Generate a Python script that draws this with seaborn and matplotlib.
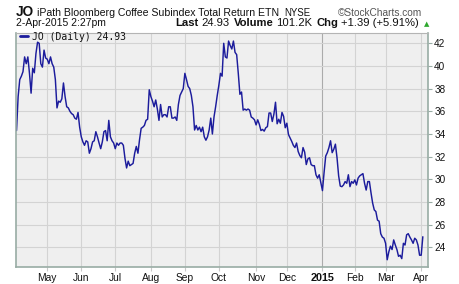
import matplotlib
matplotlib.use("Agg")
import matplotlib.pyplot as plt
import seaborn as sns
import numpy as np
import pandas as pd

# ---- data: daily closes (one value per trading day) ----
apr_2014 = [34.3, 37.3, 38.8, 39.1, 39.5, 40.8, 40.2, 40.8, 39.35, 37.6, 39.8, 39.4, 41.1, 42.1, 42.0, 40.2, 39.9, 41.4, 40.7]
may_2014 = [40.6, 40.2, 40.8, 40.2, 39.9, 38.8, 36.3, 36.9, 36.8, 37.1, 38.5, 37.3, 36.4, 36.3, 36.0, 35.8, 35.7, 35.4, 35.3, 35.9, 34.6]
jun_2014 = [33.75, 33.3, 33.0, 33.4, 33.3, 32.3, 32.7, 33.3, 33.4, 34.2, 33.75, 33.2, 32.7, 33.3, 34.2, 34.3, 33.4, 35.2, 33.75, 33.4, 33.2]
jul_2014 = [32.7, 33.2, 33.0, 33.2, 33.2, 33.0, 31.85, 31.0, 31.6, 31.2, 31.3, 31.4, 32.3, 32.9, 32.3, 33.5, 34.5, 34.6, 34.75, 35.2, 35.3, 37.9]
aug_2014 = [37.3, 36.9, 36.4, 37.0, 36.2, 35.2, 36.6, 35.5, 35.7, 35.7, 35.5, 36.4, 36.4, 35.4, 35.4, 35.5, 35.2, 36.6, 37.4, 37.7, 38.0]
sep_2014 = [39.35, 38.8, 38.2, 38.0, 37.4, 36.4, 34.35, 34.75, 34.35, 34.6, 34.2, 34.6, 33.75, 33.45, 33.75, 34.35, 35.4, 34.0, 35.5, 36.4, 37.4]
oct_2014 = [38.3, 39.35, 39.1, 42.0, 40.8, 40.7, 42.2, 41.8, 41.5, 42.2, 41.2, 41.0, 39.35, 37.5, 37.7, 36.1, 36.2, 36.1, 36.2, 36.1, 35.5, 35.4, 35.25]
nov_2014 = [34.8, 35.25, 34.85, 34.3, 34.4, 34.25, 34.55, 34.65, 35.85, 35.85, 35.1, 35.75, 36.8, 34.9, 35.3, 34.95, 35.9, 35.55, 34.55]
dec_2014 = [34.95, 33.95, 33.65, 33.35, 33.0, 32.8, 33.2, 32.45, 32.1, 31.9, 32.8, 32.4, 31.3, 31.8, 31.9, 31.3, 31.2, 31.2, 30.4, 30.1, 30.4, 29.7]
jan_2015 = [29.0, 30.6, 32.05, 32.35, 32.8, 33.4, 32.35, 32.65, 33.1, 31.9, 30.3, 29.4, 29.35, 29.5, 29.8, 29.65, 30.4, 29.35, 29.8, 29.65]
feb_2015 = [29.95, 29.5, 30.1, 30.3, 30.4, 30.5, 29.65, 29.05, 29.8, 29.8, 28.8, 27.9, 27.3, 27.15, 26.4, 26.3, 25.2, 24.9, 24.8]
mar_2015 = [24.35, 22.9, 23.6, 24.1, 23.8, 24.65, 24.2, 23.8, 23.2, 23.3, 23.0, 24.35, 24.2, 25.1, 25.2, 24.9, 24.65, 24.35, 24.8, 24.65, 24.2, 23.3]
apr_2015 = [23.3, 24.93]

# trading-day index of the first session of each month (day 0 = 2-Apr-2014)
month_start_days = [20, 41, 62, 84, 105, 126, 149, 168, 190, 210, 229, 251]
month_labels = ["May", "Jun", "Jul", "Aug", "Sep", "Oct", "Nov", "Dec", "2015", "Feb", "Mar", "Apr"]
price_ticks = [24, 26, 28, 30, 32, 34, 36, 38, 40, 42]

prices = (apr_2014 + may_2014 + jun_2014 + jul_2014 + aug_2014 + sep_2014 +
          oct_2014 + nov_2014 + dec_2014 + jan_2015 + feb_2015 + mar_2015 + apr_2015)
df = pd.DataFrame({"day": np.arange(1, len(prices) + 1), "price": prices})

# ---- figure ----
sns.set_theme(style="white")
plt.rcParams["font.family"] = ["Liberation Sans", "DejaVu Sans"]

W, H = 460, 284
fig = plt.figure(figsize=(W / 100, H / 100), dpi=100)
fig.patch.set_facecolor("white")

L, R, T, B = 16, 428, 33, 267
ax = fig.add_axes([L / W, 1 - B / H, (R - L) / W, (B - T) / H])
ax.set_facecolor("#EFEFEF")

sns.lineplot(data=df, x="day", y="price", ax=ax, color="#1C1C9C",
             linewidth=1.05, label="JO (Daily) 24.93")

ax.set_xlim(0.68, 255.2)
ax.set_ylim(22.26, 42.91)
ax.set_xlabel("")
ax.set_ylabel("")

ax.set_xticks(month_start_days)
ax.set_xticklabels(month_labels)
ax.set_yticks(price_ticks)
ax.set_yticklabels([str(v) for v in price_ticks])
ax.yaxis.tick_right()

spine_col = "#98ACA4"
ax.tick_params(axis="y", which="major", right=True, left=False, length=3,
               width=0.8, color=spine_col, pad=1.5, labelsize=7.2, labelcolor="#111111")
ax.tick_params(axis="x", which="major", bottom=True, length=3, width=0.8,
               color="#C8C8C8", pad=1.5, labelsize=7.4, labelcolor="#111111")
for lab in ax.get_xticklabels():
    if lab.get_text() == "2015":
        lab.set_fontweight("bold")
        lab.set_fontsize(7.8)

ax.grid(True, color="#D3D3D3", linewidth=0.8)
gl = ax.get_xgridlines()
gl[month_labels.index("2015")].set_color("#ABABAB")
ax.set_axisbelow(True)

for side in ["left", "bottom", "right"]:
    ax.spines[side].set_color(spine_col)
    ax.spines[side].set_linewidth(1.2)
ax.spines["top"].set_color("#B4B4B4")
ax.spines["top"].set_linewidth(0.8)

leg = ax.legend(loc="upper left", bbox_to_anchor=(3.5 / (R - L), 1.005), frameon=False,
                borderaxespad=0, borderpad=0, handlelength=0.85, handletextpad=0.45,
                prop={"family": "DejaVu Sans Mono", "size": 7.0})
for h in leg.get_lines():
    h.set_linewidth(2.0)
for t in leg.get_texts():
    t.set_color("#111111")

# ---- header text ----
fig.canvas.draw()
rend = fig.canvas.get_renderer()


def put(x, y, s, **kw):
    t = fig.text(x / W, 1 - y / H, s, va="baseline", ha="left", **kw)
    bb = t.get_window_extent(renderer=rend)
    return x + bb.width


x = put(16, 15.5, "JO", fontsize=9.8, fontweight="bold", color="#111111")
x = put(x + 2.5, 15.5, "iPath Bloomberg Coffee Subindex Total Return ETN", fontsize=7.6, color="#111111")
put(x + 6, 15.5, "NYSE", fontsize=6.9, color="#111111")
put(338, 15.5, "\u00a9StockCharts.com", fontsize=7.3, color="#555555")

put(16, 26.5, "2-Apr-2015 2:27pm", fontsize=7.5, color="#111111")
x = 175
for txt, bold in [("Last", True), ("24.93", False), ("Volume", True), ("101.2K", False),
                  ("Chg", True), ("+1.39 (+5.91%)", False)]:
    x = put(x, 26.5, txt, fontsize=8.1, fontweight="bold" if bold else "normal", color="#111111")
    x += 2.8 if bold else 4.4
put(x + 0.5, 26.0, "\u25b2", fontsize=5, color="#2EA82E", family="DejaVu Sans")

fig.savefig("out.png", dpi=100)
